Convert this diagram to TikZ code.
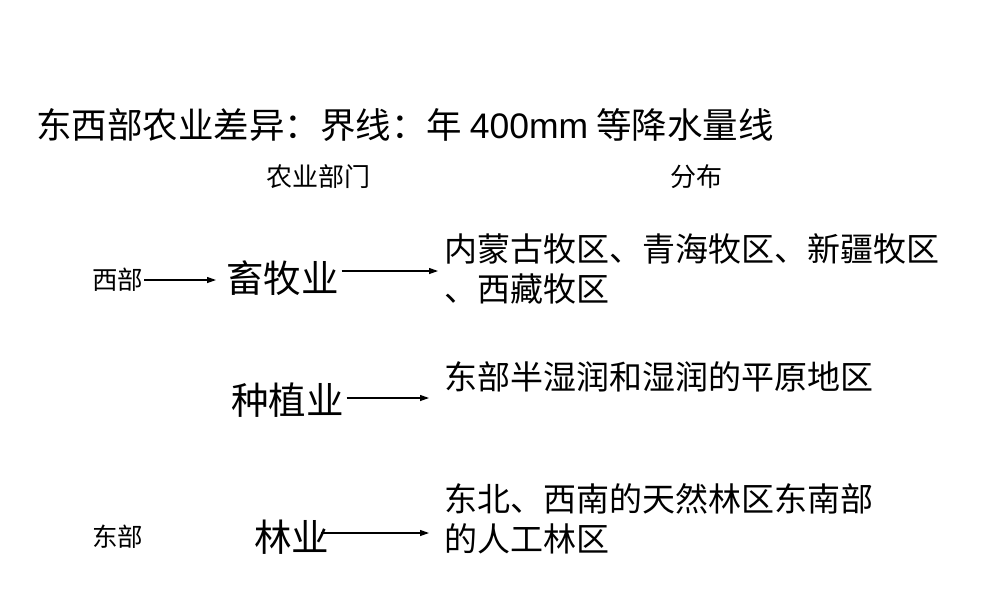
\documentclass[tikz,border=0pt]{standalone}
\usepackage{fontspec}
\usetikzlibrary{arrows.meta}
\setmainfont{Liberation Sans}
\newfontfamily\cjk{Noto Sans CJK SC}
\begin{document}
\begin{tikzpicture}[x=1pt,y=-1pt,
  every node/.style={inner sep=0pt,outer sep=0pt,anchor=west,text=black},
  ttl/.style={font=\cjk\fontsize{35.5}{40}\selectfont},
  hdr/.style={font=\cjk\fontsize{26}{30}\selectfont},
  region/.style={font=\cjk\fontsize{25.5}{30}\selectfont},
  sector/.style={font=\cjk\fontsize{37.5}{42}\selectfont},
  dist/.style={font=\cjk\fontsize{33}{40}\selectfont,align=left},
  arr/.style={-{Triangle[length=9pt,width=6pt]},line width=1.2pt}]
\useasboundingbox (0,0) rectangle (1000,600);
\node[ttl] (title) at (36,125) {东西部农业差异：界线：年 {\fontspec{Liberation Sans}400mm} 等降水量线};
\node[hdr] (h1) at (266,177) {农业部门};
\node[hdr] (h2) at (670,177) {分布};
\node[region] (west) at (92,280) {西部};
\node[region] (east) at (92,537) {东部};
\node[sector] (xumu) at (226,278) {畜牧业};
\node[sector] (zhongzhi) at (231,400) {种植业};
\node[sector] (lin) at (254,537) {林业};
\node[dist,anchor=north west] (d1) at (444,234) {内蒙古牧区、青海牧区、新疆牧区\\、西藏牧区};
\node[dist,anchor=west] (d2) at (444,377) {东部半湿润和湿润的平原地区};
\node[dist,anchor=north west] (d3) at (444,484) {东北、西南的天然林区东南部\\的人工林区};
\coordinate (a1e) at (216,280);
\coordinate (a2e) at (438,271);
\coordinate (a3e) at (429,398);
\coordinate (a4e) at (429,533);
\draw[arr] ([xshift=1pt]west.east |- a1e) -- (a1e);
\draw[arr] ([xshift=3pt]xumu.east |- a2e) -- (a2e);
\draw[arr] ([xshift=3pt]zhongzhi.east |- a3e) -- (a3e);
\draw[arr] ([xshift=-8pt]lin.east |- a4e) -- (a4e);
\end{tikzpicture}
\end{document}
